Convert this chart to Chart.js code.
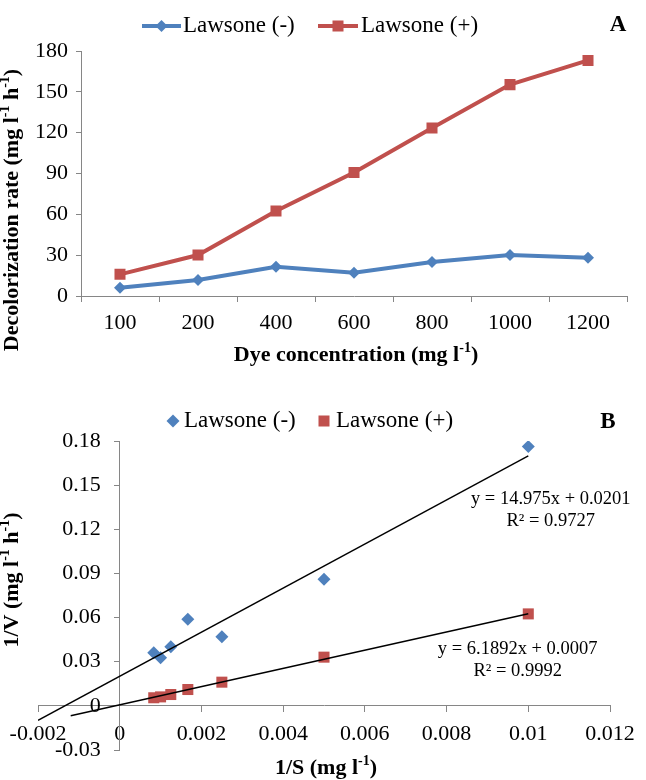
<!DOCTYPE html>
<html>
<head>
<meta charset="utf-8">
<script src="https://cdn.jsdelivr.net/npm/chart.js@4.4.1/dist/chart.umd.min.js"></script>
<style>
    html, body { margin: 0; padding: 0; background: #fff; }
    .panel { position: relative; width: 646px; height: 390px; }
</style>
</head>
<body>
<div class="panel"><canvas id="chart-a" width="646" height="390"></canvas></div>
<div class="panel"><canvas id="chart-b" width="646" height="390"></canvas></div>
<script>
// --- Panel A: decolorization rate vs dye concentration ---
const CONCENTRATIONS = ['100', '200', '400', '600', '800', '1000', '1200'];
const RATE_MINUS = [6, 11.7, 21.5, 17.1, 24.9, 30.1, 28.1];
const RATE_PLUS  = [15.9, 30.1, 62.4, 90.7, 123.5, 155.3, 173.1];
const RATE_TICKS = { min: 0, max: 180, step: 30 };

// --- Panel B: Lineweaver-Burk plot ---
const INV_S       = [0.000833, 0.001, 0.00125, 0.001667, 0.0025, 0.005, 0.01];
const INV_V_MINUS = [0.0361, 0.0327, 0.0402, 0.0588, 0.047, 0.0861, 0.1762];
const INV_V_PLUS  = [0.0055, 0.0061, 0.0077, 0.0111, 0.0161, 0.0331, 0.0625];
const FIT_SLOPES     = [14.975, 6.1892];
const FIT_INTERCEPTS = [0.0201, 0.0007];
const FIT_R2         = ['0.9727', '0.9992'];
const FIT_X_FROM     = [-0.002, -0.0012];
const FIT_X_TO       = [0.01, 0.01];
const INV_S_TICKS = { min: -0.002, max: 0.012, step: 0.002 };
const INV_V_TICKS = { min: -0.03, max: 0.18, step: 0.03 };

const SERIES_LABELS = ['Lawsone (-)', 'Lawsone (+)'];

const SERIF = '"Liberation Serif", "Times New Roman", serif';
const BLUE = '#4F81BD';
const RED  = '#C0504D';
const AXIS = '#868686';

Chart.defaults.font.family = SERIF;
Chart.defaults.color = '#000';

const fmt = v => String(Number(v.toFixed(4)));

// text with superscript parts, centred on (x, y), optionally rotated
function drawRich(ctx, parts, x, y, size, bold, rotate) {
    const weight = bold ? 'bold ' : '';
    const supSize = Math.round(size * 0.64);
    let total = 0;
    parts.forEach(p => {
        ctx.font = `${weight}${p.sup ? supSize : size}px ${SERIF}`;
        p.w = ctx.measureText(p.t).width;
        total += p.w;
    });
    ctx.save();
    ctx.translate(x, y);
    if (rotate) ctx.rotate(-Math.PI / 2);
    ctx.fillStyle = '#000';
    ctx.textBaseline = 'middle';
    ctx.textAlign = 'left';
    let cx = -total / 2;
    parts.forEach(p => {
        ctx.font = `${weight}${p.sup ? supSize : size}px ${SERIF}`;
        ctx.fillText(p.t, cx, p.sup ? -size * 0.32 : 0);
        cx += p.w;
    });
    ctx.restore();
}

function diamond(ctx, x, y, r, color) {
    ctx.fillStyle = color;
    ctx.beginPath();
    ctx.moveTo(x - r, y); ctx.lineTo(x, y - r); ctx.lineTo(x + r, y); ctx.lineTo(x, y + r);
    ctx.closePath();
    ctx.fill();
}

function square(ctx, x, y, half, color) {
    ctx.fillStyle = color;
    ctx.fillRect(x - half, y - half, half * 2, half * 2);
}

function label(ctx, text, x, y, size, bold, align) {
    ctx.save();
    ctx.font = `${bold ? 'bold ' : ''}${size}px ${SERIF}`;
    ctx.fillStyle = '#000';
    ctx.textBaseline = 'middle';
    ctx.textAlign = align || 'left';
    ctx.fillText(text, x, y);
    ctx.restore();
}

// --- Chart A ---
const decorA = {
    id: 'decorA',
    afterDraw(chart) {
        const ctx = chart.ctx;
        // legend: line with marker
        ctx.save();
        ctx.lineWidth = 4;
        ctx.strokeStyle = BLUE;
        ctx.beginPath(); ctx.moveTo(142, 26); ctx.lineTo(181, 26); ctx.stroke();
        diamond(ctx, 161.5, 26, 6, BLUE);
        ctx.strokeStyle = RED;
        ctx.beginPath(); ctx.moveTo(318, 26); ctx.lineTo(358, 26); ctx.stroke();
        square(ctx, 338, 26, 5.5, RED);
        ctx.restore();
        label(ctx, SERIES_LABELS[0], 183, 26, 23);
        label(ctx, SERIES_LABELS[1], 361, 26, 23);
        label(ctx, 'A', 618, 25, 23, true, 'center');

        drawRich(ctx, [{ t: 'Dye concentration (mg l' }, { t: '-1', sup: true }, { t: ')' }],
            356, 355, 22, true, false);
        drawRich(ctx, [{ t: 'Decolorization rate (mg l' }, { t: '-1', sup: true }, { t: ' h' },
            { t: '-1', sup: true }, { t: ')' }], 12, 210, 22, true, true);
    }
};

new Chart(document.getElementById('chart-a'), {
    type: 'line',
    data: {
        labels: CONCENTRATIONS,
        datasets: [
            {
                label: SERIES_LABELS[0],
                data: RATE_MINUS,
                borderColor: BLUE,
                backgroundColor: BLUE,
                borderWidth: 4,
                pointStyle: 'rectRot',
                pointRadius: 6,
                pointHoverRadius: 6,
                pointBorderWidth: 0,
                tension: 0,
            },
            {
                label: SERIES_LABELS[1],
                data: RATE_PLUS,
                borderColor: RED,
                backgroundColor: RED,
                borderWidth: 4,
                pointStyle: 'rect',
                pointRadius: 7.8,
                pointHoverRadius: 7.8,
                pointBorderWidth: 0,
                tension: 0,
            },
        ]
    },
    options: {
        responsive: false,
        animation: false,
        events: [],
        layout: { padding: { left: 0, right: 19, top: 51, bottom: 0 } },
        plugins: { legend: { display: false }, tooltip: { enabled: false } },
        scales: {
            x: {
                type: 'category',
                offset: true,
                grid:   { offset: true, drawOnChartArea: false, tickLength: 6, color: AXIS },
                border: { color: AXIS },
                ticks:  { font: { size: 22 }, padding: 8, maxRotation: 0, color: '#000' },
                afterFit: s => { s.height = 94; },
            },
            y: {
                min: RATE_TICKS.min,
                max: RATE_TICKS.max,
                grid:   { drawOnChartArea: false, tickLength: 5, color: AXIS },
                border: { color: AXIS },
                ticks:  { stepSize: RATE_TICKS.step, font: { size: 22 }, padding: 8, color: '#000' },
                afterFit: s => { s.width = 81; },
            }
        }
    },
    plugins: [decorA]
});

// --- Chart B ---
const EQ_ANCHORS = [{ x: 0.01055, y: 0.1406 }, { x: 0.00974, y: 0.0384 }];
const Y_LABEL_GAP = 19;

const decorB = {
    id: 'decorB',
    beforeDraw(chart) {
        // a y axis placed at x = 0 ignores ticks.padding, so push its labels left
        chart.scales.y.getLabelItems().forEach(item => {
            if (item._shifted) return;
            item.options.translation[0] -= Y_LABEL_GAP;
            item._shifted = true;
        });
    },
    afterDraw(chart) {
        const ctx = chart.ctx;
        diamond(ctx, 173, 31, 6.5, BLUE);
        square(ctx, 324, 31, 5.5, RED);
        label(ctx, SERIES_LABELS[0], 184, 31, 23);
        label(ctx, SERIES_LABELS[1], 336, 31, 23);
        label(ctx, 'B', 608, 32, 23, true, 'center');

        const xs = chart.scales.x, ys = chart.scales.y;
        FIT_SLOPES.forEach((m, i) => {
            const px = xs.getPixelForValue(EQ_ANCHORS[i].x);
            const py = ys.getPixelForValue(EQ_ANCHORS[i].y);
            label(ctx, `y = ${m}x + ${FIT_INTERCEPTS[i].toFixed(4)}`, px, py, 18.5, false, 'center');
            label(ctx, `R\u00B2 = ${FIT_R2[i]}`, px, py + 21.7, 18.5, false, 'center');
        });

        drawRich(ctx, [{ t: '1/S (mg l' }, { t: '-1', sup: true }, { t: ')' }],
            326, 378, 22, true, false);
        drawRich(ctx, [{ t: '1/V (mg l' }, { t: '-1', sup: true }, { t: ' h' },
            { t: '-1', sup: true }, { t: ')' }], 12, 190, 22, true, true);
    }
};

function fitLine(i) {
    return [FIT_X_FROM[i], FIT_X_TO[i]].map(x => ({ x, y: FIT_SLOPES[i] * x + FIT_INTERCEPTS[i] }));
}

const trendStyle = { type: 'line', borderColor: '#000', borderWidth: 1.4, pointRadius: 0, fill: false, order: 0 };

new Chart(document.getElementById('chart-b'), {
    type: 'scatter',
    data: {
        datasets: [
            { ...trendStyle, label: 'fit-', data: fitLine(0) },
            { ...trendStyle, label: 'fit+', data: fitLine(1) },
            {
                label: SERIES_LABELS[0],
                data: INV_S.map((x, i) => ({ x, y: INV_V_MINUS[i] })),
                backgroundColor: BLUE,
                pointStyle: 'rectRot',
                pointRadius: 6.5,
                pointHoverRadius: 6.5,
                pointBorderWidth: 0,
                order: 1,
            },
            {
                label: SERIES_LABELS[1],
                data: INV_S.map((x, i) => ({ x, y: INV_V_PLUS[i] })),
                backgroundColor: RED,
                pointStyle: 'rect',
                pointRadius: 7.8,
                pointHoverRadius: 7.8,
                pointBorderWidth: 0,
                order: 1,
            },
        ]
    },
    options: {
        responsive: false,
        animation: false,
        events: [],
        layout: { padding: { left: 38, right: 36, top: 51, bottom: 30 } },
        plugins: { legend: { display: false }, tooltip: { enabled: false } },
        scales: {
            x: {
                type: 'linear',
                position: { y: 0 },
                min: INV_S_TICKS.min,
                max: INV_S_TICKS.max,
                grid:   { drawOnChartArea: false, tickLength: 6, color: AXIS },
                border: { color: AXIS },
                ticks:  { stepSize: INV_S_TICKS.step, callback: fmt, font: { size: 22 }, padding: 9, maxRotation: 0, color: '#000' },
            },
            y: {
                type: 'linear',
                position: { x: 0 },
                min: INV_V_TICKS.min,
                max: INV_V_TICKS.max,
                grid:   { drawOnChartArea: false, tickLength: 5, color: AXIS },
                border: { color: AXIS },
                ticks:  { stepSize: INV_V_TICKS.step, callback: fmt, font: { size: 22 }, color: '#000' },
            }
        }
    },
    plugins: [decorB]
});
</script>
</body>
</html>
